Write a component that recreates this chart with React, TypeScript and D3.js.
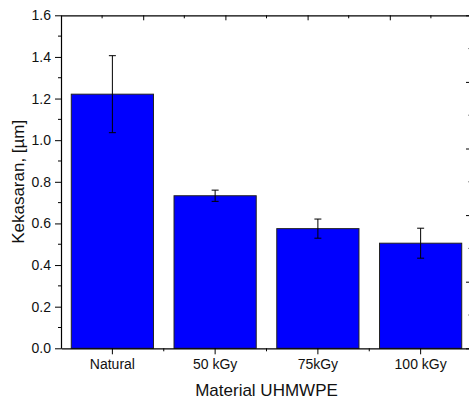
import React, { useEffect, useRef } from "react";
import * as d3 from "d3";

// --- Data ---
const categories = ["Natural", "50 kGy", "75kGy", "100 kGy"];
const roughness = [1.221, 0.733, 0.575, 0.505];
const roughnessErr = [0.185, 0.027, 0.046, 0.072];
const yTicks = [0, 0.2, 0.4, 0.6, 0.8, 1.0, 1.2, 1.4, 1.6];
const yMinorTicks = [0.1, 0.3, 0.5, 0.7, 0.9, 1.1, 1.3, 1.5];
const frameTicks = [0, 1, 2, 3, 4, 5];
const frameMinorTicks = [0.5, 1.5, 2.5, 3.5, 4.5];

const WIDTH = 469;
const HEIGHT = 401;

const App: React.FC = () => {
  const svgRef = useRef<SVGSVGElement>(null);

  useEffect(() => {
    if (!svgRef.current) return;
    const svg = d3.select(svgRef.current);
    svg.selectAll("*").remove();

    const margin = { top: 15.3, right: -3, bottom: 52.7, left: 61 };
    const x0 = margin.left;
    const x1 = WIDTH - margin.right;
    const y0 = HEIGHT - margin.bottom;
    const y1 = margin.top;

    const font = "'Liberation Sans', Arial, Helvetica, sans-serif";

    // scales
    const x = d3
      .scaleBand<string>()
      .domain(categories)
      .range([x0, x1])
      .paddingInner(0.2)
      .paddingOuter(0.1);
    const y = d3.scaleLinear().domain([0, 1.6]).range([y0, y1]);

    // the top / right frame axes carry their own plain ticks
    const xTop = d3.scaleLinear().domain([0, 5]).range([x0, x1]);
    const yRight = d3.scaleLinear().domain([0, 5]).range([y1, y0]);

    // bars
    const rows = categories.map((c, i) => ({
      cat: c,
      v: roughness[i],
      e: roughnessErr[i],
    }));

    svg
      .append("g")
      .selectAll("rect")
      .data(rows)
      .enter()
      .append("rect")
      .attr("x", (d) => x(d.cat)!)
      .attr("y", (d) => y(d.v))
      .attr("width", x.bandwidth())
      .attr("height", (d) => y(0) - y(d.v))
      .attr("fill", "#0000ff")
      .attr("stroke", "#222")
      .attr("stroke-width", 1);

    // error bars
    const eb = svg.append("g").attr("stroke", "#000").attr("stroke-width", 1);
    rows.forEach((d) => {
      const cx = x(d.cat)! + x.bandwidth() / 2;
      eb.append("line")
        .attr("x1", cx)
        .attr("x2", cx)
        .attr("y1", y(d.v + d.e))
        .attr("y2", y(d.v - d.e));
      [d.v + d.e, d.v - d.e].forEach((val) => {
        eb.append("line")
          .attr("x1", cx - 3.5)
          .attr("x2", cx + 3.5)
          .attr("y1", y(val))
          .attr("y2", y(val));
      });
    });

    // bottom axis
    const gx = svg
      .append("g")
      .attr("transform", `translate(0,${y0})`)
      .call(d3.axisBottom(x).tickSize(6).tickSizeOuter(0).tickPadding(5));
    gx.selectAll(".tick text")
      .style("font-family", font)
      .style("font-size", "14px")
      .style("fill", "#111");
    // minor ticks between categories
    const step = x.step();
    const minorX = categories
      .slice(0, -1)
      .map((c) => x(c)! + x.bandwidth() / 2 + step / 2);
    svg
      .append("g")
      .selectAll("line")
      .data(minorX)
      .enter()
      .append("line")
      .attr("x1", (d) => d)
      .attr("x2", (d) => d)
      .attr("y1", y0)
      .attr("y2", y0 + 3)
      .attr("stroke", "#000");

    // left axis
    const gy = svg
      .append("g")
      .attr("transform", `translate(${x0},0)`)
      .call(
        d3
          .axisLeft(y)
          .tickValues(yTicks)
          .tickFormat(d3.format(".1f"))
          .tickSize(6)
          .tickSizeOuter(0)
          .tickPadding(4)
      );
    gy.selectAll(".tick text")
      .style("font-family", font)
      .style("font-size", "14px")
      .style("fill", "#111");
    svg
      .append("g")
      .selectAll("line")
      .data(yMinorTicks)
      .enter()
      .append("line")
      .attr("x1", x0 - 3)
      .attr("x2", x0)
      .attr("y1", (d) => y(d))
      .attr("y2", (d) => y(d))
      .attr("stroke", "#000");

    // top frame axis (ticks inward)
    svg
      .append("g")
      .attr("transform", `translate(0,${y1})`)
      .call(d3.axisBottom(xTop).tickValues(frameTicks).tickSize(5).tickSizeOuter(0).tickFormat(() => ""));
    svg
      .append("g")
      .selectAll("line")
      .data(frameMinorTicks)
      .enter()
      .append("line")
      .attr("x1", (d) => xTop(d))
      .attr("x2", (d) => xTop(d))
      .attr("y1", y1)
      .attr("y2", y1 + 3)
      .attr("stroke", "#000");

    // right frame axis (ticks inward)
    svg
      .append("g")
      .attr("transform", `translate(${x1},0)`)
      .call(d3.axisLeft(yRight).tickValues(frameTicks).tickSize(6).tickSizeOuter(0).tickFormat(() => ""));
    svg
      .append("g")
      .selectAll("line")
      .data(frameMinorTicks)
      .enter()
      .append("line")
      .attr("x1", x1 - 4)
      .attr("x2", x1)
      .attr("y1", (d) => yRight(d))
      .attr("y2", (d) => yRight(d))
      .attr("stroke", "#888");

    svg.selectAll(".domain").attr("stroke", "#000").attr("stroke-width", 1.2);

    // axis titles
    svg
      .append("text")
      .attr("x", (x0 + x1) / 2)
      .attr("y", 396)
      .attr("text-anchor", "middle")
      .style("font-family", font)
      .style("font-size", "17px")
      .style("fill", "#111")
      .text("Material UHMWPE");

    svg
      .append("text")
      .attr("transform", `translate(24,${(y0 + y1) / 2}) rotate(-90)`)
      .attr("text-anchor", "middle")
      .style("font-family", font)
      .style("font-size", "17px")
      .style("fill", "#111")
      .text("Kekasaran, [\u00b5m]");
  }, []);

  return (
    <svg
      ref={svgRef}
      width={WIDTH}
      height={HEIGHT}
      style={{ position: "absolute", left: 0, top: 0, background: "#fff" }}
    />
  );
};

export default App;
